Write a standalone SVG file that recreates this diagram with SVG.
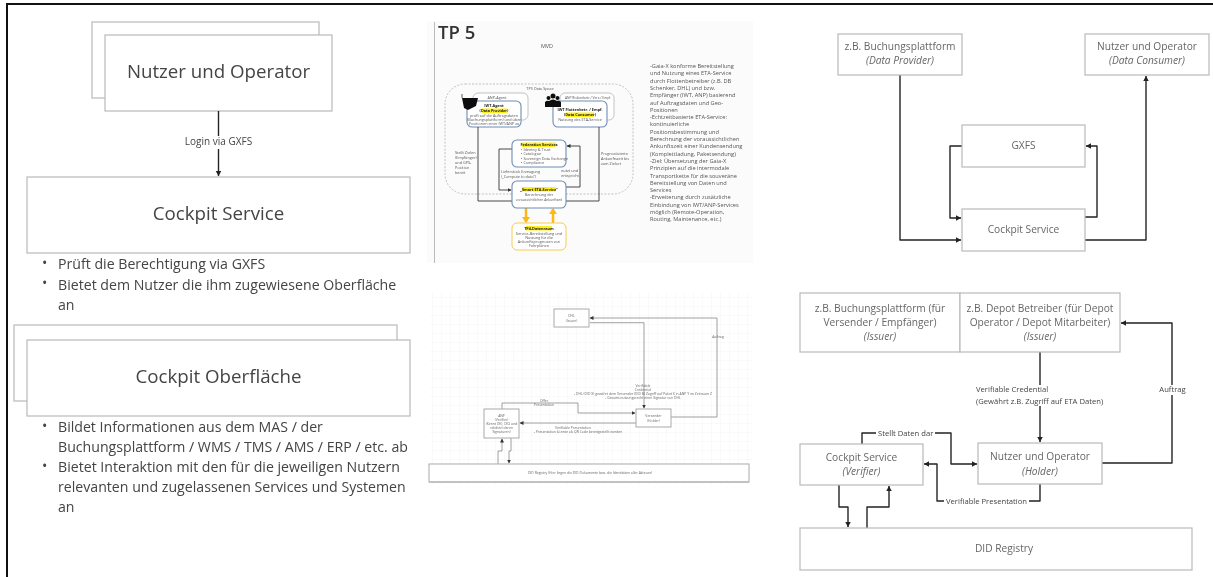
<svg xmlns="http://www.w3.org/2000/svg" width="1213" height="577" viewBox="0 0 1213 577">
<style>
text{font-family:"Open Sans","Noto Sans","Liberation Sans",sans-serif}
.box{fill:#fff;stroke:#b9b9b9;stroke-width:1.2}
.t{fill:#666;font-size:10.200px;text-anchor:middle}
.i{font-style:italic}
.d{fill:#444;text-anchor:middle;font-size:18.700px}
.b{fill:#444;font-size:14.150px}
.c{fill:none;stroke:#222;stroke-width:1.4;stroke-linejoin:round}
.l{fill:#444;font-size:7.650px}
.lb{fill:#fff}
.s{fill:#555;font-size:3.800px;text-anchor:middle}
.sl{fill:#555;font-size:3.800px}
.sb{font-weight:700;fill:#222}
.hl{fill:#ffef1f}
.bl{fill:#fff;stroke:#6f8db5;stroke-width:1.1}
.gb{fill:#fff;stroke:#aaa;stroke-width:.7}
.k{fill:none;stroke:#333;stroke-width:.9}
.p{fill:#555;font-size:5.650px}
.g{fill:#fff;stroke:#aaa;stroke-width:1}
.gl{fill:none;stroke:#888;stroke-width:.8}
.gt{fill:#666;font-size:3.400px;text-anchor:middle}
</style>
<defs>
<marker id="a" markerUnits="userSpaceOnUse" markerWidth="7" markerHeight="7" refX="5" refY="2.750" orient="auto"><path d="M0 0L5 2.750L0 5.500z" fill="#222"/></marker>
<marker id="m" markerUnits="userSpaceOnUse" markerWidth="6" markerHeight="6" refX="3.500" refY="2" orient="auto"><path d="M0 0L4 2L0 4z" fill="#333"/></marker>
<marker id="y" markerUnits="userSpaceOnUse" markerWidth="10" markerHeight="10" refX="5" refY="4" orient="auto"><path d="M0 0L6 4L0 8z" fill="#fdb813"/></marker>
<pattern id="grid" width="9" height="9" patternUnits="userSpaceOnUse"><path d="M9 0H0V9" fill="none" stroke="#eee" stroke-width=".6"/></pattern>
<filter id="soft" x="-2%" y="-2%" width="104%" height="104%"><feGaussianBlur stdDeviation="0.3"/></filter>
<filter id="blur" x="-2%" y="-2%" width="104%" height="104%"><feGaussianBlur stdDeviation="0.5"/></filter>
</defs>
<rect width="1213" height="577" fill="#fff"/>
<g id="frame"><path d="M7 577V4H1213" fill="none" stroke="#111" stroke-width="2"/></g>

<g id="left-diagram" filter="url(#soft)">
<g id="nutzer"><rect class="box" x="92" y="22" width="227" height="76"/><rect class="box" x="105" y="35" width="227" height="76"/><text class="d" x="218.500" y="78">Nutzer und Operator</text></g>
<g id="cockpit-service"><rect class="box" x="27" y="177" width="383" height="76"/><text class="d" x="218.500" y="220">Cockpit Service</text></g>
<g id="cockpit-oberflaeche"><rect class="box" x="14" y="325" width="383" height="76"/><rect class="box" x="27" y="340" width="383" height="76"/><text class="d" x="218.500" y="383">Cockpit Oberfläche</text></g>
<g id="left-connectors"><path class="c" d="M218.500 111V176" marker-end="url(#a)"/><rect class="lb" x="183" y="136" width="71" height="13"/><text class="l" style="font-size:10px" x="218.500" y="145" text-anchor="middle">Login via GXFS</text></g>
<g id="bullets">
<text class="b" x="42" y="268">•</text><text class="b" x="58" y="269">Prüft die Berechtigung via GXFS</text>
<text class="b" x="42" y="288">•</text><text class="b" x="58" y="290">Bietet dem Nutzer die ihm zugewiesene Oberfläche</text>
<text class="b" x="58" y="310">an</text>
<text class="b" x="42" y="431">•</text><text class="b" x="58" y="432">Bildet Informationen aus dem MAS / der</text>
<text class="b" x="58" y="452">Buchungsplattform / WMS / TMS / AMS / ERP / etc. ab</text>
<text class="b" x="42" y="471">•</text><text class="b" x="58" y="472">Bietet Interaktion mit den für die jeweiligen Nutzern</text>
<text class="b" x="58" y="492">relevanten und zugelassenen Services und Systemen</text>
<text class="b" x="58" y="512">an</text>
</g>
</g>

<g id="tp5" filter="url(#blur)">
<rect x="427" y="21" width="326" height="242" fill="#fbfbfb"/>
<path d="M434.500 22V263" stroke="#bbb" stroke-width="1"/>
<text x="438" y="39" font-size="18.500" font-weight="600" fill="#333">TP 5</text>
<text x="547" y="48" font-size="5.500" fill="#555" text-anchor="middle">MVD</text>
<rect x="445" y="84" width="188" height="110" rx="20" fill="none" stroke="#aaa" stroke-width=".7" stroke-dasharray="2 1.500"/>
<text class="s" x="540" y="90">TP5 Data Space</text>
<g id="tp5-agent">
<rect class="gb" x="473" y="93" width="55" height="27" rx="5"/><text class="s" x="497" y="99">ANP-Agent</text>
<rect class="bl" x="467" y="101" width="54" height="26" rx="5"/>
<path d="M462 98H478L476 106L468 110L464 108Z" fill="#111"/><path d="M462 98V94" stroke="#333" stroke-width=".8"/>
<text class="s sb" x="494" y="107">IWT-Agent</text>
<rect class="hl" x="482" y="108.500" width="25" height="4.500"/><text class="s sb" x="494" y="112">(Data Provider)</text>
<text class="s" x="494" y="116.500">prüft auf die Auftragsdaten</text><text class="s" x="494" y="120.500">(Buchungsplattform) und über</text><text class="s" x="494" y="124.500">Positionen einer IWT/ANP zu</text>
</g>
<g id="tp5-consumer">
<rect class="gb" x="560" y="93" width="54" height="27" rx="5"/><text class="s" style="font-size:3.300px" x="588" y="99">ANP Risikenbetr./ Vers./ Empf.</text>
<rect class="bl" x="553" y="101" width="54" height="26" rx="5"/>
<g fill="#111"><circle cx="553" cy="96" r="2.500"/><circle cx="548.500" cy="98" r="2"/><circle cx="557.500" cy="98" r="2"/><path d="M549 107V101Q553 98 557 101V107Z"/><path d="M545 107V102Q547 100 549 101V107Z"/><path d="M557 107V101Q559 100 561 102V107Z"/></g>
<text class="s sb" x="580" y="111">IWT Flottenbetr. / Empf.</text>
<rect class="hl" x="566" y="112.500" width="28" height="4.500"/><text class="s sb" x="580" y="116">(Data Consumer)</text>
<text class="s" x="580" y="121">Nutzung des ETA-Service</text>
</g>
<g id="tp5-connectors">
<path class="k" d="M478 127V201H512"/><path class="k" d="M599 127V201H566"/>
<path class="k" d="M512 149H499V190H511" marker-end="url(#m)"/><path class="k" d="M566 187H580V146H567" marker-end="url(#m)"/>
<path d="M526 208V222" fill="none" stroke="#fdb813" stroke-width="2.500" marker-end="url(#y)"/><path d="M553 223V209" fill="none" stroke="#fdb813" stroke-width="2.500" marker-end="url(#y)"/>
</g>
<g id="tp5-federation"><rect class="bl" x="512" y="140" width="54" height="27" rx="5"/>
<rect class="hl" x="522" y="142.500" width="34" height="4.500"/><text class="s sb" x="539" y="146">Federation Services</text>
<text class="sl" x="521" y="151">•  Identity &amp; Trust</text><text class="sl" x="521" y="155">•  Catalogue</text><text class="sl" x="521" y="159.500">•  Sovereign Data Exchange</text><text class="sl" x="521" y="164">•  Compliance</text></g>
<g id="tp5-eta"><rect class="bl" x="512" y="181" width="54" height="27" rx="5"/>
<rect class="hl" x="522" y="187" width="34" height="4.500"/><text class="s sb" x="539" y="190.500">„Smart ETA-Service"</text>
<text class="s" x="539" y="196">Berechnung der</text><text class="s" style="font-size:3.400px" x="539" y="200.500">voraussichtlichen Ankunftzeit</text></g>
<g id="tp5-data"><rect x="512" y="223" width="54" height="27" rx="5" fill="#fff" stroke="#f6ca4e" stroke-width="1"/>
<rect class="hl" x="526" y="226" width="26" height="4.500"/><text class="s sb" x="539" y="229.500">TP4-Datenraum</text>
<text class="s" x="539" y="234.500">Service-Bereitstellung und</text><text class="s" x="539" y="238.500">Nutzung für die</text><text class="s" x="539" y="242.500">Ankunftsprognosen von</text><text class="s" x="539" y="247">Fahrplänen</text></g>
<g id="tp5-labels">
<text class="sl" x="455" y="154">Stellt Zielen</text><text class="sl" x="455" y="159">(Empfänger)</text><text class="sl" x="455" y="164">und GPS-</text><text class="sl" x="455" y="169">Position</text><text class="sl" x="455" y="174">bereit</text>
<text class="sl" x="501" y="173">Lieferstück Erzeugung</text><text class="sl" x="501" y="178">(„Compute to data")</text>
<text class="sl" x="561" y="172">nutzt und</text><text class="sl" x="561" y="177">entspricht</text>
<text class="sl" x="601" y="155">Prognostizierte</text><text class="sl" x="601" y="160">Ankunftszeit bis</text><text class="sl" x="601" y="164.500">zum Zielort</text>
</g>
<g id="tp5-text">
<text class="p" x="650" y="68">-Gaia-X konforme Bereitstellung</text>
<text class="p" x="650" y="75.300">und Nutzung eines ETA-Service</text>
<text class="p" x="650" y="82.600">durch Flottenbetreiber (z.B. DB</text>
<text class="p" x="650" y="89.900">Schenker, DHL) und bzw.</text>
<text class="p" x="650" y="97.200">Empfänger (IWT, ANP) basierend</text>
<text class="p" x="650" y="104.500">auf Auftragsdaten und Geo-</text>
<text class="p" x="650" y="111.800">Positionen</text>
<text class="p" x="650" y="119.100">-Echtzeitbasierte ETA-Service:</text>
<text class="p" x="650" y="126.400">kontinuierliche</text>
<text class="p" x="650" y="133.700">Positionsbestimmung und</text>
<text class="p" x="650" y="141">Berechnung der voraussichtlichen</text>
<text class="p" x="650" y="148.300">Ankunftszeit einer Kundensendung</text>
<text class="p" x="650" y="155.600">(Komplettladung, Paketsendung)</text>
<text class="p" x="650" y="162.900">-Ziel: Übersetzung der Gaia-X</text>
<text class="p" x="650" y="170.200">Prinzipien auf die intermodale</text>
<text class="p" x="650" y="177.500">Transportkette für die souveräne</text>
<text class="p" x="650" y="184.800">Bereitstellung von Daten und</text>
<text class="p" x="650" y="192.100">Services</text>
<text class="p" x="650" y="199.400">-Erweiterung durch zusätzliche</text>
<text class="p" x="650" y="206.700">Einbindung von IWT/ANP-Services</text>
<text class="p" x="650" y="214">möglich (Remote-Operation,</text>
<text class="p" x="650" y="221.300">Routing, Maintenance, etc.)</text>
</g>
</g>

<g id="sketch" filter="url(#blur)">
<rect x="430" y="292" width="323" height="193" fill="url(#grid)"/>
<g id="sketch-connectors">
<path class="gl" d="M671 417H717V318H590" marker-end="url(#m)"/>
<path class="gl" d="M590 322.700H644V408" marker-end="url(#m)"/>
<path class="gl" d="M502 409V403H578V413H635" marker-end="url(#m)"/>
<path class="gl" d="M636 423H520" marker-end="url(#m)"/>
<path class="gl" d="M498 464V451H502V439" marker-end="url(#m)"/>
<path class="gl" d="M511 438V451H509V463" marker-end="url(#m)"/>
</g>
<g id="sketch-dhl"><rect class="g" x="554" y="309" width="35" height="18"/><text class="gt" x="571.500" y="317">DHL</text><text class="gt" x="571.500" y="322">(Issuer)</text></g>
<g id="sketch-versender"><rect class="g" x="636" y="409" width="35" height="18"/><text class="gt" x="653.500" y="417">Versender</text><text class="gt" x="653.500" y="421.500">(Holder)</text></g>
<g id="sketch-anp"><rect class="g" x="484" y="409" width="35" height="29"/>
<text class="gt" x="501.500" y="416.500">ANP</text><text class="gt" x="501.500" y="421">(Verifier)</text><text class="gt" x="501.500" y="425">(Kennt DKI, DIO und</text><text class="gt" x="501.500" y="429">validiert deren</text><text class="gt" x="501.500" y="433">Signaturen)</text></g>
<g id="sketch-registry"><rect x="429" y="464" width="320" height="18" fill="#fff" stroke="#aaa" stroke-width="1"/><path d="M429 482H749" stroke="#bbb" stroke-width="1.500"/><text class="gt" x="590" y="474">DID Registry (Hier liegen die DID Dokumente bzw. die Identitäten aller Akteure)</text></g>
<g id="sketch-labels">
<text class="gt" x="544" y="401.500">Offer</text><text class="gt" x="544" y="405.500">Presentation</text>
<text class="gt" x="718" y="338">Auftrag</text>
<text class="gt" x="643" y="386.500">Verifiable</text><text class="gt" x="643" y="390.500">Credential</text>
<text class="gt" x="643" y="394.500">- DHL (DID X) gewährt dem Versender (DID B) Zugriff auf Paket X in ANP Y im Zeitraum Z</text>
<text class="gt" x="643" y="398.500">- Gesamt-nutzungsrecht einer Signatur von DHL</text>
<text class="gt" x="573" y="428.500">Verifiable Presentation</text><text class="gt" x="578" y="432.500">- Presentation könnte als QR Code bereitgestellt werden</text>
</g>
</g>

<g id="top-right" filter="url(#soft)">
<g id="tr-connectors">
<path class="c" d="M900 75V240H961" marker-end="url(#a)"/>
<path class="c" d="M1085 240H1146V76" marker-end="url(#a)"/>
<path class="c" d="M962 146H950V218H961" marker-end="url(#a)"/>
<path class="c" d="M1085 217H1097V146H1086" marker-end="url(#a)"/>
</g>
<g id="tr-provider"><rect class="box" x="838" y="34" width="124" height="41"/><text class="t" x="900" y="50">z.B. Buchungsplattform</text><text class="t i" x="900" y="64">(Data Provider)</text></g>
<g id="tr-consumer"><rect class="box" x="1085" y="34" width="124" height="41"/><text class="t" x="1147" y="50">Nutzer und Operator</text><text class="t i" x="1147" y="64">(Data Consumer)</text></g>
<g id="tr-gxfs"><rect class="box" x="962" y="125" width="123" height="42"/><text class="t" x="1023.500" y="149">GXFS</text></g>
<g id="tr-cockpit"><rect class="box" x="962" y="209" width="123" height="42"/><text class="t" x="1023.500" y="232.500">Cockpit Service</text></g>
</g>

<g id="bottom-right" filter="url(#soft)">
<g id="br-connectors">
<path class="c" d="M1040 352V442" marker-end="url(#a)"/>
<path class="c" d="M1102 463H1172V323H1121" marker-end="url(#a)"/>
<path class="c" d="M862 444V433H951V464H977" marker-end="url(#a)"/>
<path class="c" d="M1040 484V501H937V464H924" marker-end="url(#a)"/>
<path class="c" d="M839 485V507H848V527" marker-end="url(#a)"/>
<path class="c" d="M867 528V507H889V486" marker-end="url(#a)"/>
<rect class="lb" x="975" y="385" width="130" height="21"/>
<rect class="lb" x="1158" y="385" width="29" height="10"/>
<rect class="lb" x="876" y="428" width="59" height="11"/>
<rect class="lb" x="944" y="496" width="85" height="11"/>
</g>
<g id="br-issuer1"><rect class="box" x="800" y="293" width="160" height="59"/><text class="t" x="880" y="312">z.B. Buchungsplattform (für</text><text class="t" x="880" y="326">Versender / Empfänger)</text><text class="t i" x="880" y="340">(Issuer)</text></g>
<g id="br-issuer2"><rect class="box" x="960" y="293" width="160" height="59"/><text class="t" x="1040" y="312">z.B. Depot Betreiber (für Depot</text><text class="t" x="1040" y="326">Operator / Depot Mitarbeiter)</text><text class="t i" x="1040" y="340">(Issuer)</text></g>
<g id="br-verifier"><rect class="box" x="800" y="444" width="123" height="41"/><text class="t" x="861.500" y="460.500">Cockpit Service</text><text class="t i" x="861.500" y="475">(Verifier)</text></g>
<g id="br-holder"><rect class="box" x="978" y="443" width="124" height="41"/><text class="t" x="1040" y="459.500">Nutzer und Operator</text><text class="t i" x="1040" y="474.500">(Holder)</text></g>
<g id="br-registry"><rect class="box" x="800" y="528" width="392" height="42"/><text class="t" x="1004" y="552">DID Registry</text></g>
<g id="br-labels">
<text class="l" x="976" y="392">Verifiable Credential</text>
<text class="l" x="976" y="404">(Gewährt z.B. Zugriff auf ETA Daten)</text>
<text class="l" x="1172.500" y="392" text-anchor="middle">Auftrag</text>
<text class="l" x="878" y="436">Stellt Daten dar</text>
<text class="l" x="946" y="504">Verifiable Presentation</text>
</g>
</g>
</svg>
